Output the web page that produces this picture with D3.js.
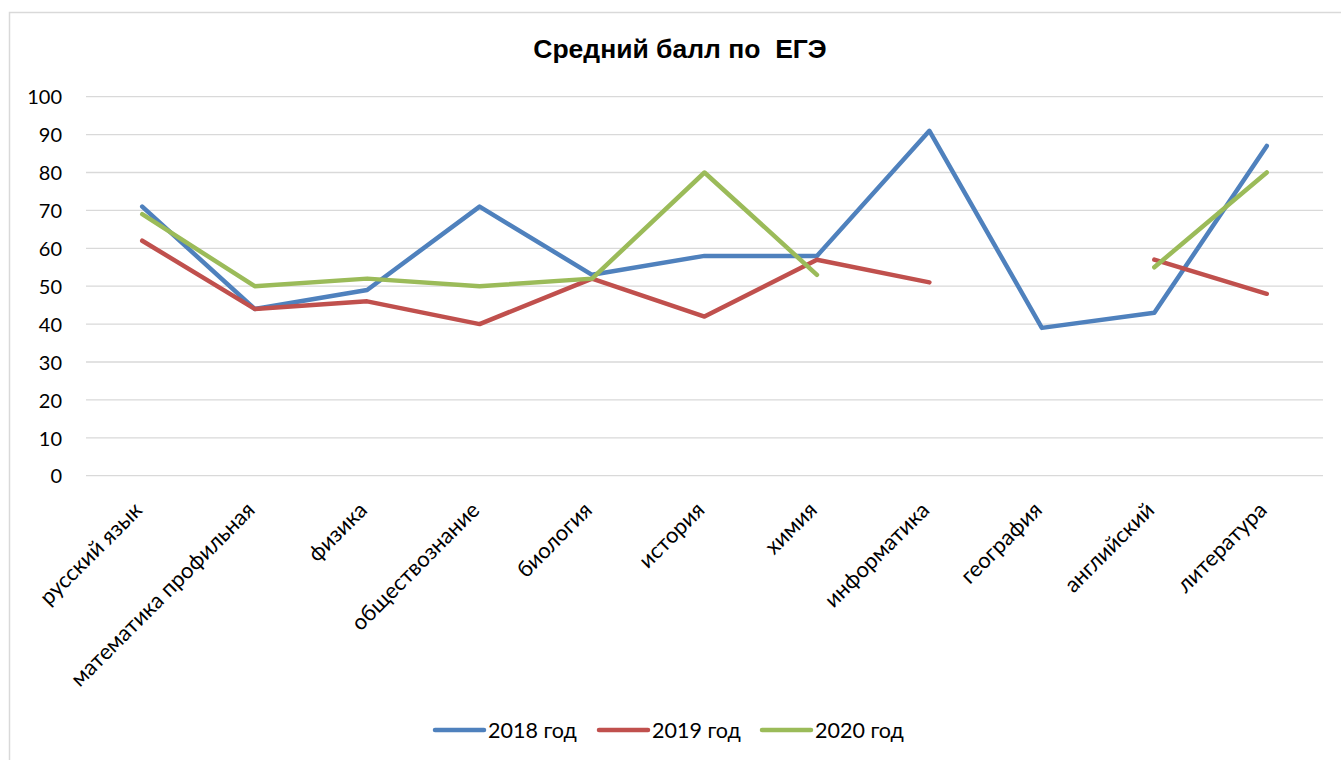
<!DOCTYPE html>
<html>
<head>
<meta charset="utf-8">
<script src="https://cdn.jsdelivr.net/npm/d3@7"></script>
<style>
  body { margin: 0; background: #fff; }
  text { font-family: Lato, "Open Sans", sans-serif; fill: #000; }
</style>
</head>
<body>
<div id="chart"></div>
<script>
// chart size
var w = 1341;
var h = 760;

// data
var subjects = ["русский язык", "математика профильная", "физика", "обществознание",
  "биология", "история", "химия", "информатика", "география", "английский", "литература"];
var years = ["2018 год", "2019 год", "2020 год"];
var scores2018 = [71, 44, 49, 71, 53, 58, 58, 91, 39, 43, 87];
var scores2019 = [62, 44, 46, 40, 52, 42, 57, 51, null, 57, 48];
var scores2020 = [69, 50, 52, 50, 52, 80, 53, null, null, 55, 80];
var yTicks = [0, 10, 20, 30, 40, 50, 60, 70, 80, 90, 100];
var colors = ["#4F81BD", "#C0504D", "#9BBB59"];

var series = [scores2018, scores2019, scores2020];

var svg = d3.select("#chart")
  .append("svg")
  .attr("width", w)
  .attr("height", h);

// outer frame
svg.append("rect")
  .attr("x", 9.5).attr("y", 12.5)
  .attr("width", 1340).attr("height", 760)
  .attr("fill", "none")
  .attr("stroke", "#d9d9d9")
  .attr("stroke-width", 1.5);

// title
svg.append("text")
  .attr("x", 680).attr("y", 58)
  .attr("text-anchor", "middle")
  .style("font-family", "Arial, 'Liberation Sans', sans-serif")
  .style("font-size", "26.5px")
  .style("font-weight", "bold")
  .style("white-space", "pre")
  .text("Средний балл по  ЕГЭ");

var xScale = d3.scaleBand()
  .domain(subjects)
  .range([86, 1323]);

var yScale = d3.scaleLinear()
  .domain([0, 100])
  .range([475.7, 96.7]);

// gridlines
svg.append("g")
  .selectAll("line")
  .data(yTicks)
  .enter()
  .append("line")
  .attr("x1", 86).attr("x2", 1323)
  .attr("y1", function(d) { return yScale(d); })
  .attr("y2", function(d) { return yScale(d); })
  .attr("stroke", "#d9d9d9")
  .attr("stroke-width", 1.3);

// y axis labels
var yAxis = d3.axisLeft(yScale).tickValues(yTicks).tickSize(0).tickPadding(0);
var yg = svg.append("g")
  .attr("transform", "translate(62,0)")
  .call(yAxis);
yg.select(".domain").remove();
yg.selectAll("text")
  .style("font-size", "20px")
  .attr("dy", "0.36em");

// x axis labels, rotated
var xAxis = d3.axisBottom(xScale).tickSize(0).tickPadding(0);
var xg = svg.append("g")
  .attr("transform", "translate(0,506)")
  .call(xAxis);
xg.select(".domain").remove();
xg.selectAll("text")
  .style("font-size", "22px")
  .attr("text-anchor", "end")
  .attr("y", 0)
  .attr("dy", "0.35em")
  .attr("transform", "translate(-4,0) rotate(-45)");

// lines
var line = d3.line()
  .defined(function(d) { return d !== null; })
  .x(function(d, i) { return xScale(subjects[i]) + xScale.bandwidth() / 2; })
  .y(function(d) { return yScale(d); });

svg.append("g")
  .selectAll("path")
  .data(series)
  .enter()
  .append("path")
  .attr("d", line)
  .attr("fill", "none")
  .attr("stroke", function(d, i) { return colors[i]; })
  .attr("stroke-width", 4.5)
  .attr("stroke-linecap", "round")
  .attr("stroke-linejoin", "round");

// legend
var legendX = [435, 599, 762];
var legend = svg.append("g")
  .selectAll("g")
  .data(years)
  .enter()
  .append("g")
  .attr("transform", function(d, i) { return "translate(" + legendX[i] + ",730)"; });

legend.append("line")
  .attr("x1", 0).attr("x2", 49)
  .attr("stroke", function(d, i) { return colors[i]; })
  .attr("stroke-width", 4.5)
  .attr("stroke-linecap", "round");

legend.append("text")
  .attr("x", 53)
  .attr("y", 8)
  .style("font-size", "21.5px")
  .text(function(d) { return d; });
</script>
</body>
</html>
